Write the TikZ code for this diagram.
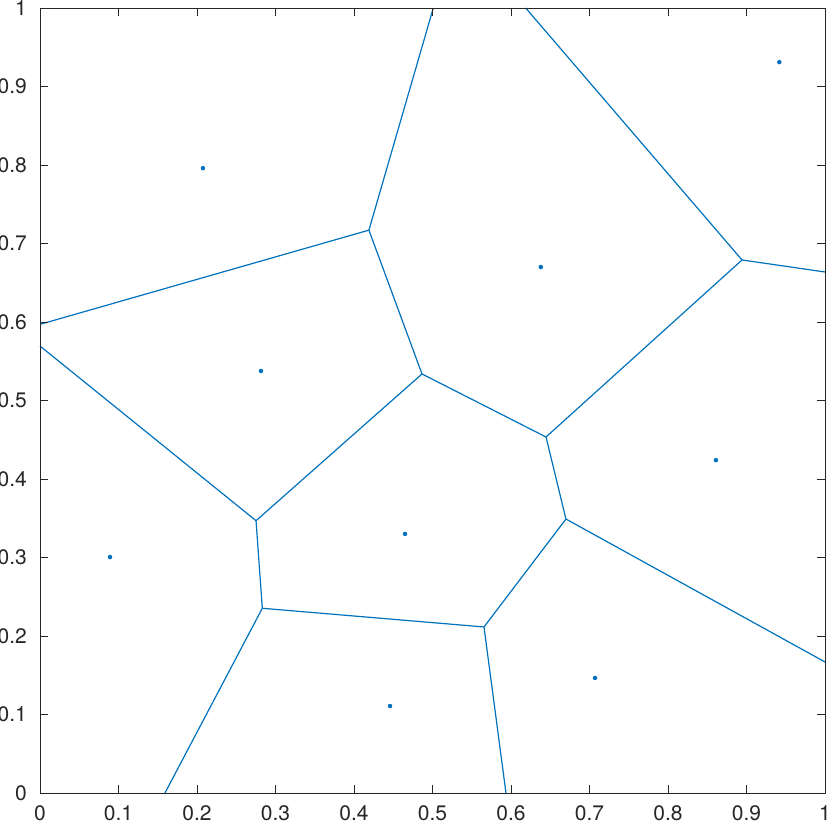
\documentclass[tikz,border=0pt]{standalone}
\usepackage{fontspec}
\setmainfont{TeX Gyre Heros}
\definecolor{mblue}{RGB}{0,114,189}
\definecolor{axgray}{RGB}{38,38,38}
\begin{document}
\begin{tikzpicture}[x=785pt,y=785pt,
  edge/.style={draw=mblue,line width=1.2pt},
  site/.style={circle,fill=mblue,inner sep=0pt,minimum size=4.5pt},
  axisline/.style={draw=axgray,line width=0.9pt},
  ticklab/.style={text=axgray,font=\fontsize{21}{21}\selectfont,inner sep=0pt}]
\useasboundingbox (-40pt,-35pt) rectangle (790pt,793pt);
% vertices
\coordinate (A) at (0.501,1);
\coordinate (B) at (0.419,0.717);
\coordinate (C) at (0,0.597);
\coordinate (D) at (0,0.5694);
\coordinate (E) at (0.4866,0.5338);
\coordinate (F) at (0.2752,0.3469);
\coordinate (G) at (0.2832,0.2353);
\coordinate (H) at (0.6446,0.4535);
\coordinate (I) at (0.6187,1);
\coordinate (J) at (0.8943,0.679);
\coordinate (K) at (1,0.6637);
\coordinate (L) at (0.670,0.349);
\coordinate (M) at (1,0.1669);
\coordinate (N) at (0.5656,0.2115);
\coordinate (O) at (0.1592,0);
\coordinate (P) at (0.5936,0);
% edges
\draw[edge] (A) -- (B);
\draw[edge] (B) -- (C);
\draw[edge] (B) -- (E);
\draw[edge] (D) -- (F);
\draw[edge] (F) -- (E);
\draw[edge] (F) -- (G);
\draw[edge] (E) -- (H);
\draw[edge] (H) -- (J);
\draw[edge] (I) -- (J);
\draw[edge] (J) -- (K);
\draw[edge] (H) -- (L);
\draw[edge] (L) -- (M);
\draw[edge] (L) -- (N);
\draw[edge] (N) -- (G);
\draw[edge] (G) -- (O);
\draw[edge] (N) -- (P);
% sites
\node[site] (s1) at (0.2076,0.796) {};
\node[site] (s2) at (0.2815,0.5376) {};
\node[site] (s3) at (0.0892,0.3006) {};
\node[site] (s4) at (0.465,0.330) {};
\node[site] (s5) at (0.4459,0.1108) {};
\node[site] (s6) at (0.638,0.670) {};
\node[site] (s7) at (0.9418,0.931) {};
\node[site] (s8) at (0.861,0.424) {};
\node[site] (s9) at (0.707,0.1465) {};
% axes box
\draw[axisline] (0,0) rectangle (1,1);
\foreach \t/\l in {0/0,0.1/0.1,0.2/0.2,0.3/0.3,0.4/0.4,0.5/0.5,0.6/0.6,0.7/0.7,0.8/0.8,0.9/0.9,1/1}{
  \draw[axisline] (\t,0) -- ++(0,8pt);
  \draw[axisline] (\t,1) -- ++(0,-8pt);
  \draw[axisline] (0,\t) -- ++(8pt,0);
  \draw[axisline] (1,\t) -- ++(-8pt,0);
  \node[ticklab,anchor=north] at ([yshift=-12pt]\t,0) {\l};
  \node[ticklab,anchor=east] at ([xshift=-13pt]0,\t) {\l};
}
\end{tikzpicture}
\end{document}
